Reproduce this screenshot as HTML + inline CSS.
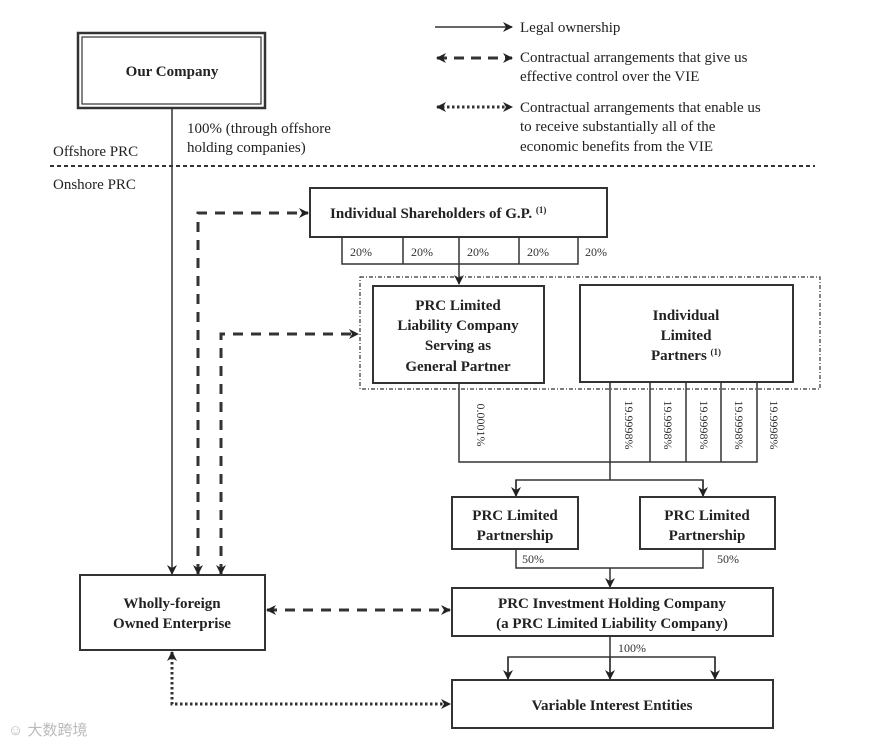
<!DOCTYPE html>
<html><head><meta charset="utf-8"><style>
html,body{margin:0;padding:0;background:#fff;}
svg{display:block;font-family:"Liberation Serif",serif;}
.b{font-weight:bold;font-size:15px;fill:#222;}
.n{font-size:15px;fill:#222;}
.s{font-size:12px;fill:#333;}
</style></head><body>
<svg width="880" height="744" viewBox="0 0 880 744">
<defs>
<marker id="a" markerWidth="10" markerHeight="10" refX="9" refY="5" orient="auto-start-reverse" markerUnits="userSpaceOnUse"><path d="M0,0 L10,5 L0,10 L3,5 z" fill="#222"/></marker>
</defs>
<g fill="none" stroke="#333" stroke-width="1.5">
<rect x="78" y="33" width="187" height="75" stroke-width="2.5"/>
<rect x="82" y="37" width="179" height="67" stroke-width="1.2"/>
<line x1="435" y1="27" x2="512" y2="27" marker-end="url(#a)"/>
<line x1="437" y1="58" x2="512" y2="58" stroke-width="3" stroke-dasharray="10,7" marker-start="url(#a)" marker-end="url(#a)"/>
<line x1="437" y1="107" x2="512" y2="107" stroke-width="3" stroke-dasharray="2.5,2.5" marker-start="url(#a)" marker-end="url(#a)"/>
<line x1="50" y1="166" x2="815" y2="166" stroke-width="2" stroke-dasharray="4,3"/>
<line x1="172" y1="108" x2="172" y2="574" marker-end="url(#a)"/>
<path d="M198,574 V213 H308" stroke-width="3" stroke-dasharray="10,8" marker-start="url(#a)" marker-end="url(#a)"/>
<path d="M221,574 V334 H358" stroke-width="3" stroke-dasharray="10,8" marker-start="url(#a)" marker-end="url(#a)"/>
<rect x="310" y="188" width="297" height="49" stroke-width="2"/>
<path d="M342,237 V264 H578 V237 M403,237 V264 M519,237 V264"/>
<line x1="459" y1="237" x2="459" y2="284" marker-end="url(#a)"/>
<rect x="360" y="277" width="460" height="112" stroke-width="1.2" stroke-dasharray="4,2,1,2"/>
<rect x="373" y="286" width="171" height="97" stroke-width="2"/>
<rect x="580" y="285" width="213" height="97" stroke-width="2"/>
<path d="M459,383 V462 H757 V382 M610,382 V462 M650,382 V462 M686,382 V462 M721,382 V462"/>
<path d="M610,462 V480 M516,497 V480 H703 V497"/>
<line x1="516" y1="480" x2="516" y2="496" marker-end="url(#a)"/>
<line x1="703" y1="480" x2="703" y2="496" marker-end="url(#a)"/>
<rect x="452" y="497" width="126" height="52" stroke-width="2"/>
<rect x="640" y="497" width="135" height="52" stroke-width="2"/>
<path d="M516,549 V568 H703 V549"/>
<line x1="610" y1="568" x2="610" y2="587" marker-end="url(#a)"/>
<rect x="452" y="588" width="321" height="48" stroke-width="2"/>
<path d="M610,636 V679 M508,679 V657 H715 V679"/>
<line x1="508" y1="657" x2="508" y2="679" marker-end="url(#a)"/>
<line x1="610" y1="657" x2="610" y2="679" marker-end="url(#a)"/>
<line x1="715" y1="657" x2="715" y2="679" marker-end="url(#a)"/>
<rect x="452" y="680" width="321" height="48" stroke-width="2"/>
<rect x="80" y="575" width="185" height="75" stroke-width="2"/>
<line x1="267" y1="610" x2="450" y2="610" stroke-width="3" stroke-dasharray="10,8" marker-start="url(#a)" marker-end="url(#a)"/>
<path d="M172,652 V704 H450" stroke-width="3" stroke-dasharray="2.5,2.5" marker-start="url(#a)" marker-end="url(#a)"/>
</g>
<text class="b" x="172" y="76" text-anchor="middle">Our Company</text>
<text class="n" x="520" y="32">Legal ownership</text>
<text class="n" x="520" y="62">Contractual arrangements that give us</text>
<text class="n" x="520" y="81">effective control over the VIE</text>
<text class="n" x="520" y="112">Contractual arrangements that enable us</text>
<text class="n" x="520" y="131">to receive substantially all of the</text>
<text class="n" x="520" y="151">economic benefits from the VIE</text>
<text class="n" x="187" y="133">100% (through offshore</text>
<text class="n" x="187" y="152">holding companies)</text>
<text class="n" x="53" y="156">Offshore PRC</text>
<text class="n" x="53" y="189">Onshore PRC</text>
<text class="b" x="330" y="218">Individual Shareholders of G.P. <tspan font-size="9" dy="-5">(1)</tspan></text>
<g class="s"><text x="350" y="256">20%</text><text x="411" y="256">20%</text><text x="467" y="256">20%</text><text x="527" y="256">20%</text><text x="585" y="256">20%</text></g>
<g class="b" text-anchor="middle">
<text x="458" y="310">PRC Limited</text><text x="458" y="330">Liability Company</text><text x="458" y="350">Serving as</text><text x="458" y="371">General Partner</text>
<text x="686" y="320">Individual</text><text x="686" y="340">Limited</text><text x="686" y="360">Partners <tspan font-size="9" dy="-5">(1)</tspan></text>
<text x="515" y="520">PRC Limited</text><text x="515" y="540">Partnership</text>
<text x="707" y="520">PRC Limited</text><text x="707" y="540">Partnership</text>
<text x="612" y="608">PRC Investment Holding Company</text><text x="612" y="628">(a PRC Limited Liability Company)</text>
<text x="612" y="710">Variable Interest Entities</text>
<text x="172" y="608">Wholly-foreign</text><text x="172" y="628">Owned Enterprise</text>
</g>
<g class="s">
<text transform="translate(477,425) rotate(90)" text-anchor="middle">0.0001%</text>
<text transform="translate(625,425) rotate(90)" text-anchor="middle">19.9998%</text>
<text transform="translate(664,425) rotate(90)" text-anchor="middle">19.9998%</text>
<text transform="translate(700,425) rotate(90)" text-anchor="middle">19.9998%</text>
<text transform="translate(735,425) rotate(90)" text-anchor="middle">19.9998%</text>
<text transform="translate(770,425) rotate(90)" text-anchor="middle">19.9998%</text>
<text x="522" y="563">50%</text><text x="717" y="563">50%</text><text x="618" y="652">100%</text>
</g>
<text x="8" y="735" font-family="'Liberation Sans','Noto Sans CJK SC',sans-serif" font-size="15" fill="#bbb">☺ 大数跨境</text>
</svg>
</body></html>
